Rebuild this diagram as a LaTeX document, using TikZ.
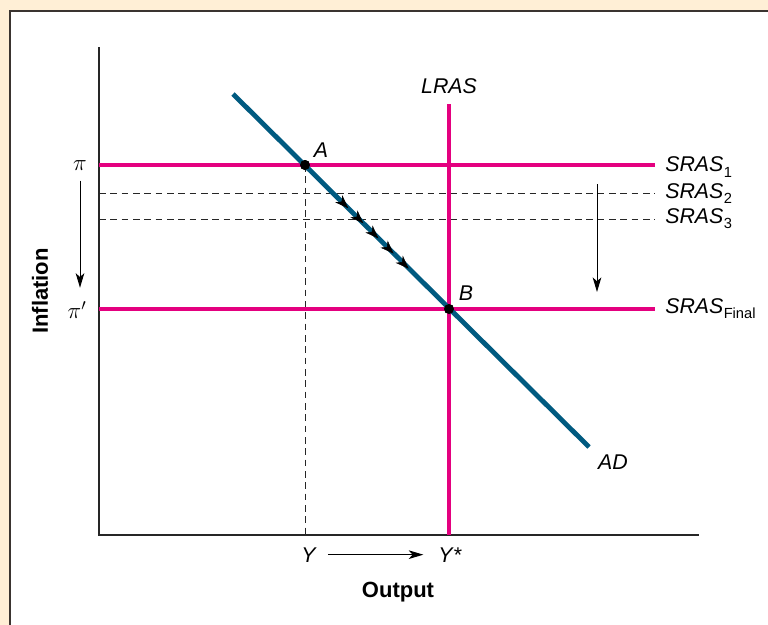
\documentclass[tikz,border=0pt]{standalone}
\usepackage{fontspec}
\setmainfont{Liberation Sans}
\usetikzlibrary{arrows.meta,positioning,calc,decorations.markings}

\definecolor{bgbeige}{HTML}{FFEFD6}
\definecolor{paneledge}{HTML}{3A3430}
\definecolor{curvepink}{HTML}{E4007F}
\definecolor{adblue}{HTML}{005A80}

\newcommand{\srassub}[1]{SRAS\kern0.3pt\raisebox{-4.3pt}{\fontsize{11}{11}\selectfont\upshape #1}}

\begin{document}
\begin{tikzpicture}[
    x=0.75pt, y=-0.75pt,
    lbl/.style={font=\fontsize{16}{18}\selectfont\itshape, inner sep=0pt},
    axlbl/.style={font=\fontsize{16.5}{18}\selectfont\bfseries, inner sep=0pt},
    pilbl/.style={font=\fontsize{18}{20}\selectfont, inner sep=0pt},
    pinkline/.style={draw=curvepink, line width=3.2pt},
    adline/.style={draw=adblue, line width=3.6pt},
    guide/.style={dash pattern=on 5pt off 3.5pt, line width=0.7pt, draw=black!85},
    axis/.style={line width=0.9pt, draw=black!85},
    arr/.style={-{Stealth[length=11pt,width=6.5pt,inset=3pt]}, line width=0.75pt},
    pt/.style={circle, fill=black, inner sep=0pt, minimum size=7.5pt},
    flow/.style={decoration={markings,
      mark=between positions 0.3 and 0.75 step 0.105 with
        {\arrow{Stealth[length=10pt,width=7.5pt,inset=3pt]}}}, decorate}
  ]
    \useasboundingbox (0,0) rectangle (768,625);
    \fill[bgbeige] (0,0) rectangle (768,625);
    \draw[draw=paneledge, line width=1.5pt, fill=white] (9.5,11) rectangle (790,650);

    \coordinate (O) at (99,535);
    \coordinate (ytop) at (99,47);
    \coordinate (xend) at (699,535);
    \draw[axis] (ytop) -- (O) -- (xend);

    \node[lbl, anchor=base] (lras) at (449,93) {LRAS};
    \coordinate (lrastop) at (449,104);

    \node[pt] (A) at (305,165) {};
    \node[pt] (B) at (449,309) {};

    \coordinate (s1l) at (99,165);   \coordinate (s1r) at (655,165);
    \coordinate (s2l) at (99,193);   \coordinate (s2r) at (655,193);
    \coordinate (s3l) at (99,219);   \coordinate (s3r) at (655,219);
    \coordinate (sfl) at (99,309);   \coordinate (sfr) at (655,309);

    \draw[guide] (s2l) -- (s2r);
    \draw[guide] (s3l) -- (s3r);
    \draw[guide] (A.center) -- (A.center |- O);

    \draw[pinkline] (s1l) -- (s1r);
    \draw[pinkline] (sfl) -- (sfr);
    \draw[pinkline] (lrastop) -- (lrastop |- O);

    \coordinate (adtop) at (233,94);
    \coordinate (adend) at (589,447);
    \draw[adline] (adtop) -- (adend);
    \path[flow] (A.center) -- (B.center);

    \node[pt] at (A) {};
    \node[pt] at (B) {};
    \node[lbl, anchor=base] (Alab) at (321,157) {A};
    \node[lbl, anchor=base] (Blab) at (466,300) {B};
    \node[lbl, anchor=base] (adlab) at (613,469) {AD};

    \node[lbl, anchor=base west] (sras1) at (665,171.5) {\srassub{1}};
    \node[lbl, anchor=base west] (sras2) at (665,198) {\srassub{2}};
    \node[lbl, anchor=base west] (sras3) at (665,223) {\srassub{3}};
    \node[lbl, anchor=base west] (srasf) at (665,313) {\srassub{Final}};

    \coordinate (shiftA) at (597,184);
    \coordinate (shiftB) at (597,292);
    \draw[arr] (shiftA) -- (shiftB);

    \node[pilbl] (pitop) at (80,166) {$\pi$};
    \node[pilbl] (pibot) at (77,310) {$\pi'$};
    \draw[arr, shorten <=7pt, shorten >=10pt] (pitop.south -| 80,0) -- (pibot.north -| 80,0);

    \node[lbl, anchor=base] (ylab) at (308.5,562) {Y};
    \node[lbl, anchor=base west] (ystar) at (438,562) {Y\kern1pt\upshape*};
    \draw[arr, shorten <=9pt, shorten >=11pt] (ylab.east) -- (ylab.east -| ystar.west);

    \node[axlbl, anchor=base] (outlab) at (398,597) {Output};
    \node[axlbl, rotate=90] (infl) at (40,291) {Inflation};
  \end{tikzpicture}
\end{document}
